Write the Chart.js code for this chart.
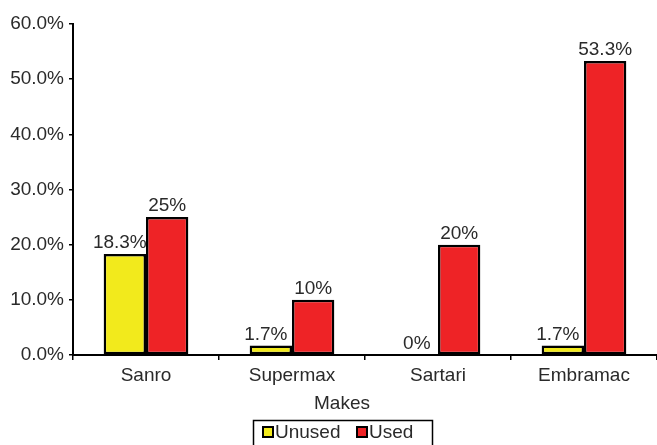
<!DOCTYPE html>
<html>
<head>
<meta charset="utf-8">
<script src="https://cdn.jsdelivr.net/npm/chart.js@4.4.1/dist/chart.umd.min.js"></script>
<style>
html,body{margin:0;padding:0;background:#fff;}
#wrap{width:657px;height:445px;position:relative;}
</style>
</head>
<body>
<div id="wrap"><canvas id="c" width="657" height="445"></canvas></div>
<script>
const categories = ['Sanro', 'Supermax', 'Sartari', 'Embramac'];
const unused = [18.3, 1.7, 0, 1.7];
const used = [25, 10, 20, 53.3];
const yTicks = [0, 10, 20, 30, 40, 50, 60];
const xTitle = 'Makes';
const seriesNames = ['Unused', 'Used'];
const colors = ['#F2EA1C', '#EE2326'];

const FONT = '"Liberation Sans", Arial, Helvetica, sans-serif';
const TXT = '#2a2a2a';
const FS = 19;

const labelPlugin = {
  id: 'labels',
  afterDatasetsDraw(chart) {
    const ctx = chart.ctx;
    ctx.save();
    ctx.font = FS + 'px ' + FONT;
    ctx.fillStyle = TXT;
    ctx.textAlign = 'center';
    ctx.textBaseline = 'alphabetic';
    chart.data.datasets.forEach((ds, i) => {
      const meta = chart.getDatasetMeta(i);
      meta.data.forEach((el, j) => {
        const v = ds.data[j];
        const dx = (i === 0 && v > 0) ? -5 : 0;
        ctx.fillText(String(v) + '%', el.x + dx, el.y - 6);
      });
    });
    ctx.restore();
  }
};

const legendPlugin = {
  id: 'customLegend',
  afterDraw(chart) {
    const ctx = chart.ctx;
    ctx.save();
    const cx = 342;
    ctx.font = FS + 'px ' + FONT;
    ctx.fillStyle = TXT;
    ctx.textAlign = 'center';
    ctx.textBaseline = 'middle';
    ctx.fillText(xTitle, cx, 404);
    ctx.strokeStyle = '#000';
    ctx.lineWidth = 1.5;
    ctx.strokeRect(253.5, 420.5, 179, 30);
    ctx.textAlign = 'left';
    const items = [[263, seriesNames[0], colors[0]], [357, seriesNames[1], colors[1]]];
    items.forEach(([x, name, col]) => {
      ctx.fillStyle = col;
      ctx.fillRect(x, 427, 10, 10);
      ctx.lineWidth = 2;
      ctx.strokeStyle = '#000';
      ctx.strokeRect(x, 427, 10, 10);
      ctx.fillStyle = TXT;
      ctx.fillText(name, x + 12, 433);
    });
    ctx.restore();
  }
};

new Chart(document.getElementById('c'), {
  type: 'bar',
  data: {
    labels: categories,
    datasets: [
      { label: seriesNames[0], data: unused, backgroundColor: colors[0], borderColor: '#000',
        borderWidth: c => (c.raw === 0 ? 0 : 2.5), borderSkipped: false,
        categoryPercentage: 0.58, barPercentage: 1.0 },
      { label: seriesNames[1], data: used, backgroundColor: colors[1], borderColor: '#000',
        borderWidth: 2.5, borderSkipped: false,
        categoryPercentage: 0.58, barPercentage: 1.0 }
    ]
  },
  options: {
    responsive: false,
    animation: false,
    devicePixelRatio: 1,
    layout: { padding: { top: 24, right: 0, bottom: 60, left: 0 } },
    plugins: { legend: { display: false }, tooltip: { enabled: false } },
    scales: {
      x: {
        offset: true,
        grid: { display: true, offset: true, drawOnChartArea: false, drawTicks: true, tickLength: 5, color: '#000', lineWidth: 1.5 },
        border: { display: true, color: '#000', width: 2 },
        ticks: { color: TXT, font: { size: FS, family: FONT }, padding: 4, maxRotation: 0 },
        afterFit: s => { s.height = 30; }
      },
      y: {
        min: 0, max: 60,
        afterBuildTicks: s => { s.ticks = yTicks.map(v => ({ value: v })); },
        grid: { display: true, drawOnChartArea: false, drawTicks: true, tickLength: 4, color: '#000', lineWidth: 1.5 },
        border: { display: true, color: '#000', width: 2 },
        ticks: { color: TXT, font: { size: FS, family: FONT }, padding: 5,
          callback: v => Number(v).toFixed(1) + '%' },
        afterFit: s => { s.width = 73; }
      }
    }
  },
  plugins: [labelPlugin, legendPlugin]
});
</script>
</body>
</html>
